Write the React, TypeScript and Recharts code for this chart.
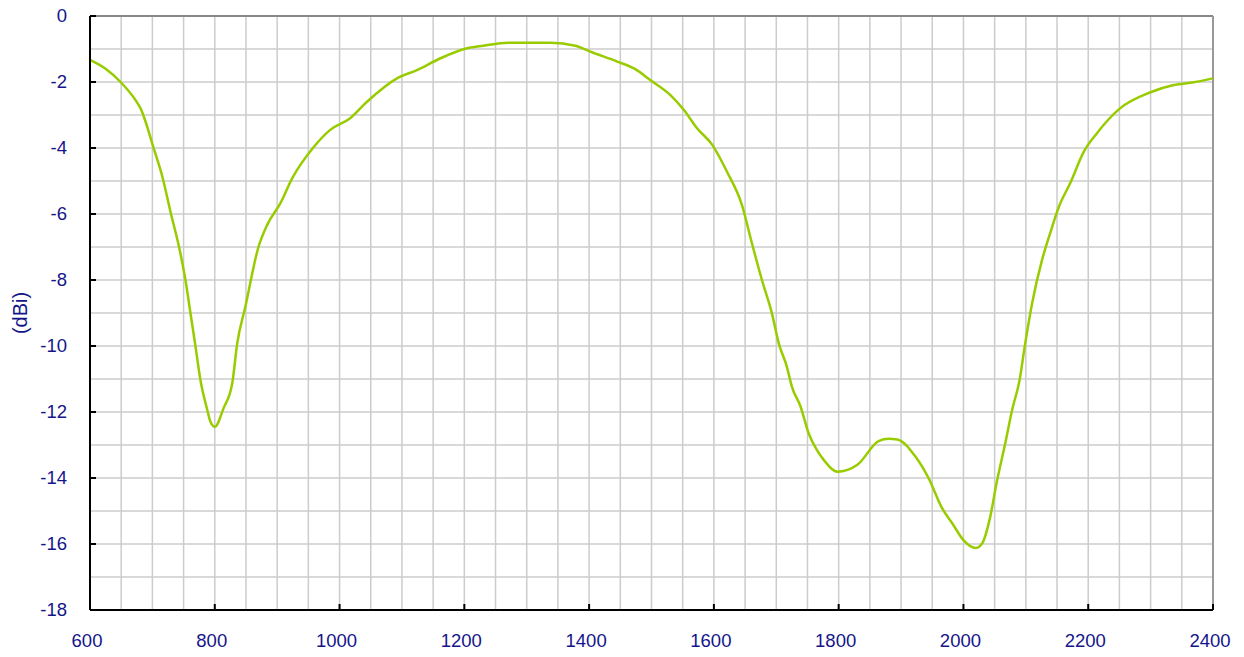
import React from "react";
import { CartesianGrid, Label, Line, LineChart, ReferenceLine, XAxis, YAxis } from "recharts";

const freqs = [
  600, 625, 649, 673, 681, 702, 716, 729, 745, 753, 761, 769, 777, 788, 793, 800, 814, 828, 836, 849,
  870, 884, 905, 924, 959, 985, 1017, 1044, 1092, 1124, 1162, 1200, 1231, 1270, 1338, 1378, 1402, 1445,
  1474, 1498, 1530, 1552, 1573, 1598, 1621, 1645, 1661, 1677, 1693, 1704, 1717, 1725, 1739, 1752, 1765,
  1776, 1798, 1830, 1864, 1880, 1894, 1923, 1944, 1966, 1982, 2000, 2020, 2030, 2043, 2053, 2067, 2078,
  2090, 2099, 2110, 2126, 2139, 2153, 2171, 2193, 2214, 2251, 2300, 2337, 2369, 2400,
];

const gainDbi = [
  -1.33, -1.6, -2.0, -2.55, -2.8, -4.0, -4.87, -5.93, -7.2, -8.0, -9.0, -10.0, -11.03, -11.94, -12.29, -12.45,
  -11.89, -11.13, -9.92, -8.81, -7.0, -6.33, -5.68, -4.92, -3.96, -3.45, -3.1, -2.6, -1.89, -1.64, -1.28, -1.0,
  -0.9, -0.81, -0.81, -0.9, -1.08, -1.38, -1.61, -1.94, -2.39, -2.85, -3.4, -3.92, -4.72, -5.73, -6.89, -8.0,
  -9.01, -9.92, -10.63, -11.23, -11.84, -12.65, -13.15, -13.45, -13.81, -13.6, -12.88, -12.81, -12.83, -13.35,
  -14.0, -14.92, -15.37, -15.88, -16.12, -15.98, -15.17, -14.16, -12.95, -11.94, -11.03, -9.92, -8.71, -7.39,
  -6.58, -5.78, -5.07, -4.11, -3.55, -2.8, -2.31, -2.09, -2.01, -1.89,
];

// grid every 50 MHz / 1 dB, labels every 200 MHz / 2 dB
const xGridTicks = [
  600, 650, 700, 750, 800, 850, 900, 950, 1000, 1050, 1100, 1150, 1200, 1250, 1300, 1350, 1400, 1450, 1500,
  1550, 1600, 1650, 1700, 1750, 1800, 1850, 1900, 1950, 2000, 2050, 2100, 2150, 2200, 2250, 2300, 2350, 2400,
];
const yGridTicks = [-18, -17, -16, -15, -14, -13, -12, -11, -10, -9, -8, -7, -6, -5, -4, -3, -2, -1, 0];

const data = freqs.map((f, i) => ({ freq: f, gain: gainDbi[i] }));

const LABEL = "#15158a";
const FONT = "'Liberation Sans', Arial, sans-serif";

function XTick(props: any) {
  const { x, y, payload } = props;
  if (payload.value % 200 !== 0) return null;
  return (
    <g>
      <line x1={x} x2={x} y1={y} y2={y - 6} stroke="#000" strokeWidth={2} />
      <text x={x - 3} y={y + 31} dy="0.35em" textAnchor="middle" fill={LABEL} fontSize={18.5} fontFamily={FONT}>
        {payload.value}
      </text>
    </g>
  );
}

function YTick(props: any) {
  const { x, y, payload } = props;
  if (payload.value % 2 !== 0) return null;
  return (
    <g>
      <line x1={x} x2={x + 6} y1={y} y2={y} stroke="#000" strokeWidth={2} />
      <text x={x - 23} y={y} dy="0.35em" textAnchor="end" fill={LABEL} fontSize={18.5} fontFamily={FONT}>
        {payload.value}
      </text>
    </g>
  );
}

export default function App() {
  return (
    <div style={{ position: "absolute", left: 0, top: 0, background: "#fff" }}>
      <LineChart width={1244} height={657} data={data} margin={{ top: 16, right: 31, bottom: 0, left: 0 }}>
        <CartesianGrid stroke="#cccccc" strokeWidth={1.5} />
        <XAxis
          dataKey="freq"
          type="number"
          domain={[600, 2400]}
          ticks={xGridTicks}
          interval={0}
          height={47}
          tickSize={0}
          tickMargin={0}
          tickLine={false}
          tick={<XTick />}
          axisLine={{ stroke: "#000", strokeWidth: 2 }}
        />
        <YAxis
          type="number"
          domain={[-18, 0]}
          ticks={yGridTicks}
          interval={0}
          width={90}
          tickSize={0}
          tickMargin={0}
          tickLine={false}
          tick={<YTick />}
          axisLine={{ stroke: "#000", strokeWidth: 2 }}
        >
          <Label
            value="(dBi)"
            angle={-90}
            position="insideLeft"
            offset={20}
            style={{ textAnchor: "middle", fill: LABEL, fontSize: 20, fontFamily: FONT }}
          />
        </YAxis>
        <ReferenceLine y={0} stroke="#888" strokeWidth={2} />
        <ReferenceLine x={2400} stroke="#999" strokeWidth={2} />
        <Line
          type="monotone"
          dataKey="gain"
          stroke="#99cc00"
          strokeWidth={2.5}
          dot={false}
          isAnimationActive={false}
        />
      </LineChart>
    </div>
  );
}
